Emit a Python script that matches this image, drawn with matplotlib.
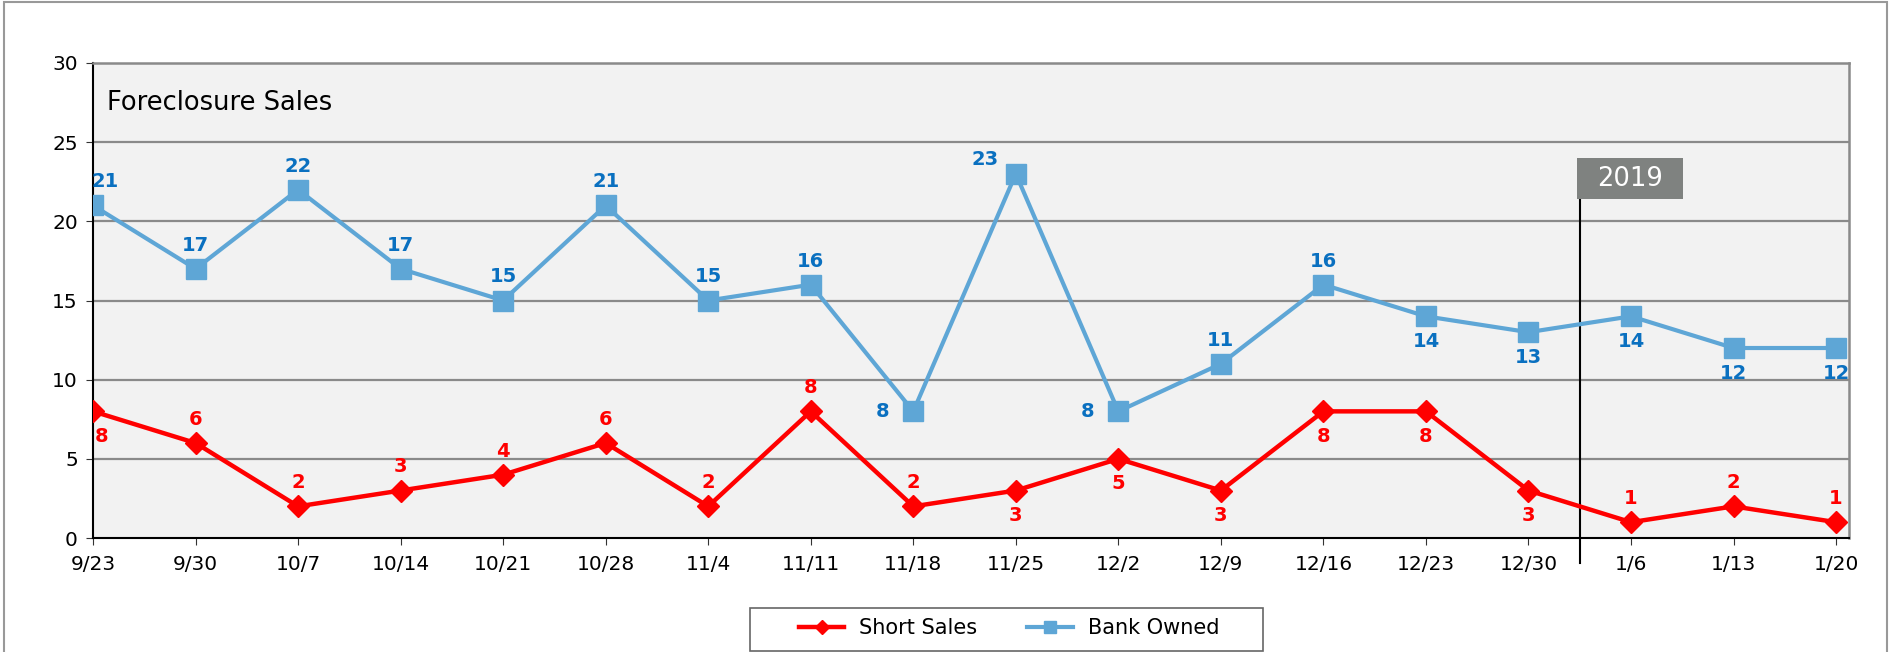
import matplotlib
matplotlib.use("Agg")
import matplotlib.pyplot as plt
from matplotlib.patches import Rectangle

plt.rcParams['font.family'] = ['DejaVu Sans']

categories = ["9/23", "9/30", "10/7", "10/14", "10/21", "10/28", "11/4", "11/11", "11/18",
              "11/25", "12/2", "12/9", "12/16", "12/23", "12/30", "1/6", "1/13", "1/20"]
short_sales = [8, 6, 2, 3, 4, 6, 2, 8, 2, 3, 5, 3, 8, 8, 3, 1, 2, 1]
bank_owned = [21, 17, 22, 17, 15, 21, 15, 16, 8, 23, 8, 11, 16, 14, 13, 14, 12, 12]
# label placement: 'a' above, 'b' below, 'l' left, 'ul' upper-left
short_pos = ['b', 'a', 'a', 'a', 'a', 'a', 'a', 'a', 'a', 'b', 'b', 'b', 'b', 'b', 'b', 'a', 'a', 'a']
bank_pos = ['a', 'a', 'a', 'a', 'a', 'a', 'a', 'a', 'l', 'ul', 'l', 'a', 'a', 'b', 'b', 'b', 'b', 'b']

RED = "#ff0000"
BLUE_LINE = "#5ea6d6"
BLUE_TXT = "#0a70c0"

fig = plt.figure(figsize=(18.91, 6.52), dpi=100)
ax = fig.add_axes([0.0492, 0.1748, 0.9288, 0.7286])
ax.set_facecolor("#f2f2f2")

x = list(range(len(categories)))
ax.plot(x, bank_owned, color=BLUE_LINE, lw=3, marker='s', ms=14, zorder=4, label="Bank Owned")
ax.plot(x, short_sales, color=RED, lw=3.2, marker='D', ms=11.5, zorder=5, label="Short Sales")

offsets = {'a': (0, 17), 'b': (0, -18), 'l': (-22, 0), 'ul': (-22, 10)}
for i, (v, p) in enumerate(zip(bank_owned, bank_pos)):
    dx, dy = offsets[p]
    if i == 0:
        dx += 9
    ax.annotate(str(v), (i, v), xytext=(dx, dy), textcoords='offset points', ha='center', va='center',
                color=BLUE_TXT, fontsize=14, fontweight='bold', zorder=6)
for i, (v, p) in enumerate(zip(short_sales, short_pos)):
    dx, dy = offsets[p]
    if i == 0:
        dx += 6
    ax.annotate(str(v), (i, v), xytext=(dx, dy), textcoords='offset points', ha='center', va='center',
                color=RED, fontsize=14, fontweight='bold', zorder=6)

ax.set_xlim(0, 17.13)
ax.set_ylim(0, 30)
ax.set_yticks(range(0, 31, 5))
ax.set_xticks(x)
ax.set_xticklabels(categories)
ax.tick_params(axis='both', labelsize=14.5, length=5, color='#333333')
ax.tick_params(axis='x', pad=7)
ax.tick_params(axis='y', pad=6)
for yv in range(5, 30, 5):
    ax.axhline(yv, color='#8a8a8a', lw=1.6, zorder=1)
ax.spines['top'].set_color('#8a8a8a')
ax.spines['top'].set_linewidth(1.8)
ax.spines['right'].set_color('#8a8a8a')
ax.spines['right'].set_linewidth(1.8)
ax.spines['left'].set_color('black')
ax.spines['left'].set_linewidth(1.5)
ax.spines['bottom'].set_color('black')
ax.spines['bottom'].set_linewidth(1.5)

ax.text(0.008, 0.915, "Foreclosure Sales", fontsize=18.5, va='center', ha='left', color='black',
        transform=ax.transAxes)

# 2019 marker
ax.plot([14.5, 14.5], [-1.6, 21.4], color='black', lw=1.5, clip_on=False, zorder=3)
ax.add_patch(Rectangle((14.47, 21.4), 1.04, 2.6, facecolor='#7f8280', edgecolor='none', zorder=3))
ax.text(14.99, 22.7, "2019", color='white', fontsize=18.5, ha='center', va='center', zorder=4)

handles, labels = ax.get_legend_handles_labels()
leg = fig.legend(handles[::-1], labels[::-1], loc='center', bbox_to_anchor=(0.5335, 0.037), ncol=2,
                 fontsize=15, frameon=False, markerscale=0.6,
                 handlelength=2.2, columnspacing=2.4, borderpad=0.2, borderaxespad=0,
                 handletextpad=0.7)
fig.patches.append(Rectangle((0.3966, 0.0015), 0.2713, 0.066, transform=fig.transFigure, fill=False,
                             edgecolor='#666666', lw=1.2))

fig.patches.append(Rectangle((0.002, -0.01), 0.996, 1.007, transform=fig.transFigure, fill=False,
                             edgecolor='#999999', lw=1.5))

fig.savefig("out.png", dpi=100)
